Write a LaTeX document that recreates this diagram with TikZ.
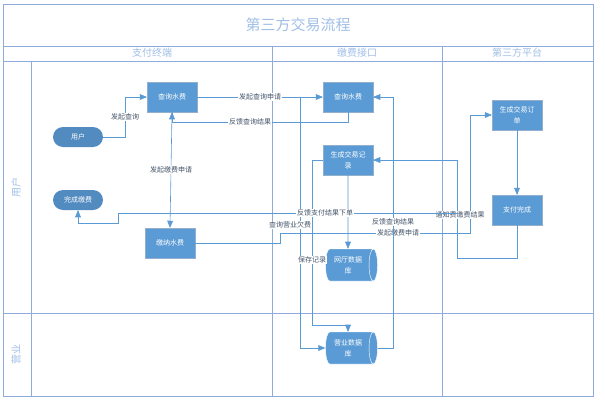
\documentclass[tikz,border=0pt]{standalone}
\usepackage{fontspec}
\setmainfont{Noto Sans CJK SC}
\usetikzlibrary{arrows,shapes.geometric,positioning}
\definecolor{boxblue}{RGB}{91,155,213}
\definecolor{lineblue}{RGB}{91,155,213}
\definecolor{laneblue}{RGB}{143,170,220}
\definecolor{headblue}{RGB}{160,190,230}
\definecolor{labelgray}{RGB}{68,84,106}
\tikzset{
    >=triangle 45,
    proc/.style={
        rectangle,
        fill=boxblue,
        draw=boxblue!80!black!60,
        text=white,
        align=center,
        minimum width=50pt,
        minimum height=30pt,
        font={\fontsize{7pt}{11}\selectfont}
    },
    term/.style={
        rectangle,
        rounded corners=10pt,
        fill=boxblue!90!black,
        text=white,
        minimum width=50pt,
        minimum height=20pt,
        font={\fontsize{7pt}{9}\selectfont}
    },
    store/.style={
        cylinder,
        shape aspect=0.35,
        fill=boxblue,
        draw=white,
        text=white,
        align=center,
        minimum width=32pt,
        minimum height=52pt,
        font={\fontsize{7pt}{11}\selectfont}
    },
    flow/.style={draw=lineblue, semithick, ->},
    lbl/.style={fill=white, inner sep=1pt, text=labelgray,
        font={\fontsize{7pt}{9}\selectfont}},
    lane/.style={draw=laneblue, thick},
    head/.style={text=headblue, font={\fontsize{10pt}{12}\selectfont}},
}
\begin{document}
\begin{tikzpicture}[x=1pt, y=-1pt]
\useasboundingbox (0,0) rectangle (605,410);

% lanes
\draw [lane] (3,4) rectangle (593,396);
\draw [lane] (3,46) -- (593,46);
\draw [lane] (3,61) -- (593,61);
\draw [lane] (3,313) -- (593,313);
\draw [lane] (31,61) -- (31,396);
\draw [lane] (272,46) -- (272,396);
\draw [lane] (442,46) -- (442,396);
\node [text=headblue, font={\fontsize{15pt}{17}\selectfont}] (title) at (298,25) {第三方交易流程};
\foreach \t/\x in {支付终端/152, 缴费接口/357, 第三方平台/517}
  \node [head] at (\x,53) {\t};
\node [head, rotate=90] (lane-user) at (16,187) {用户};
\node [head, rotate=90] (lane-biz) at (16,354) {营业};

% nodes
\node [term] (user) at (78,137) {用户};
\node [term] (done) at (78,200) {完成缴费};
\node [proc] (queryA) at (172,97) {查询水费};
\node [proc] (pay) at (170,243) {缴纳水费};
\node [proc] (queryB) at (348,97) {查询水费};
\node [proc] (record) at (348,160) {生成交易记\\录};
\node [store] (webdb) at (348,265) {网厅数据\\库};
\node [store] (bizdb) at (348,348) {营业数据\\库};
\node [proc] (order) at (517,115) {生成交易订\\单};
\node [proc] (paid) at (517,210) {支付完成};

% connectors
\draw [flow] (user.east) -| (125,97) -- (queryA.west);
\node [lbl] at (125,117) {发起查询};
\draw [flow] (queryA.east) -- node [lbl] {发起查询申请} (queryB.west);
\draw [flow] (queryB.south) |- (172,122) -- (queryA.south);
\node [lbl] at (250,122) {反馈查询结果};
\draw [flow] (queryA.south) -- node [lbl] {发起缴费申请} (pay.north);
\draw [flow] (pay.east) -| (280,233) -| (470,115) -- (order.west);
\node [lbl] at (398,233) {发起缴费申请};
\draw [flow] (300,97) |- (bizdb.west);
\node [lbl] at (290,225) {查询营业欠费};
\draw [flow] (record.west) -| (312,325) -| (bizdb.north);
\node [lbl] at (312,260) {保存记录};
\draw [flow] (record.south) -- (webdb.north);
\draw [flow] (bizdb.east) -| (393,97) -- (queryB.east);
\node [lbl] at (393,222) {反馈查询结果};
\draw [flow] (order.south) -- (paid.north);
\draw [flow] (paid.south) |- (457,258) |- (record.east);
\node [lbl] at (460,215) {通知费缴费结果};
\draw [flow] (457,213) -| (118,223) -| (done.south);
\node [lbl] at (325,213) {反馈支付结果下单};
\end{tikzpicture}
\end{document}
